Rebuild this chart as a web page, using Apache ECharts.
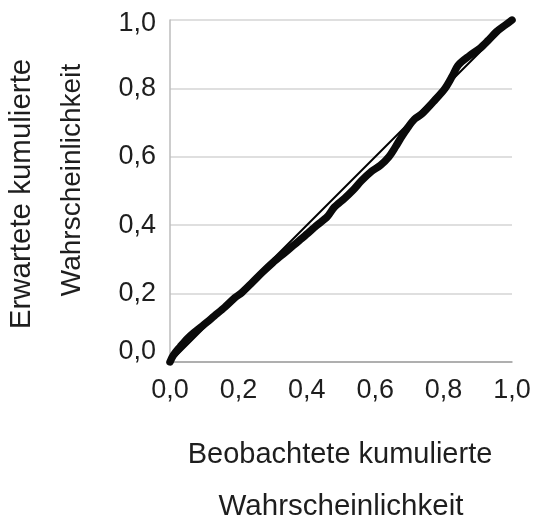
<!DOCTYPE html>
<html>
<head>
<meta charset="utf-8">
<script src="https://cdn.jsdelivr.net/npm/echarts@6/dist/echarts.min.js"></script>
<style>html,body{margin:0;padding:0;background:#fff;}#c{width:536px;height:521px;}</style>
</head>
<body>
<div id="c"></div>
<script>
// Observed cumulative probability (x) vs expected cumulative probability (y)
var observed = [0.000,0.010,0.030,0.050,0.070,0.100,0.130,0.160,0.190,0.210,0.240,0.270,0.300,0.330,0.360,0.390,0.430,0.460,0.480,0.510,0.536,0.560,0.590,0.615,0.640,0.660,0.675,0.695,0.715,0.736,0.770,0.804,0.825,0.843,0.875,0.906,0.930,0.955,0.980,1.000];
var expected = [0.000,0.020,0.045,0.068,0.086,0.110,0.135,0.160,0.188,0.203,0.232,0.262,0.290,0.315,0.340,0.365,0.400,0.425,0.452,0.478,0.503,0.530,0.558,0.575,0.600,0.630,0.655,0.685,0.710,0.725,0.761,0.800,0.835,0.868,0.895,0.917,0.940,0.966,0.985,1.000];
var refLine = [[0, 0], [1, 1]];
var tickLabels = ['0,0', '0,2', '0,4', '0,6', '0,8', '1,0'];
var xTitle = ['Beobachtete kumulierte', 'Wahrscheinlichkeit'];
var yTitle = ['Erwartete kumulierte', 'Wahrscheinlichkeit'];

var pts = observed.map(function (v, i) { return [v, expected[i]]; });
var FONT = '"Liberation Sans", Arial, sans-serif';
function lbl(v) { return tickLabels[Math.round(v * 5)]; }

var chart = echarts.init(document.getElementById('c'), null, {renderer: 'canvas'});
chart.setOption({
  animation: false,
  backgroundColor: '#ffffff',
  grid: {left: 170, top: 20, right: 24, bottom: 159, containLabel: false},
  xAxis: {
    type: 'value', min: 0, max: 1, interval: 0.2,
    axisLine: {show: true, lineStyle: {color: '#a0a0a0', width: 1.5}},
    axisTick: {show: false},
    splitLine: {show: false},
    axisLabel: {fontSize: 27, fontFamily: FONT, color: '#1e1e1e', margin: 15, formatter: lbl}
  },
  yAxis: {
    type: 'value', min: 0, max: 1, interval: 0.2,
    axisLine: {show: true, lineStyle: {color: '#bdbdbd', width: 1.5}},
    axisTick: {show: false},
    splitLine: {show: true, lineStyle: {color: '#d4d4d4', width: 1.5}},
    axisLabel: {
      fontSize: 27, fontFamily: FONT, color: '#1e1e1e', margin: 14,
      formatter: function (v) {
        if (v === 0) return '{lo|' + lbl(v) + '}';
        if (v === 1) return '{hi|' + lbl(v) + '}';
        return lbl(v);
      },
      rich: {
        lo: {fontSize: 27, fontFamily: FONT, color: '#1e1e1e', padding: [0, 0, 20, 0]},
        hi: {fontSize: 27, fontFamily: FONT, color: '#1e1e1e', padding: [8, 0, 0, 0]}
      }
    }
  },
  series: [
    {
      type: 'line', data: refLine, symbol: 'none', silent: true,
      lineStyle: {color: '#000', width: 2}, z: 2
    },
    {
      type: 'line', data: pts, symbol: 'none', smooth: 0.3, silent: true,
      lineStyle: {color: '#0a0a0a', width: 7.5, cap: 'round', join: 'round'}, z: 3
    }
  ],
  graphic: [
    {type: 'text', x: 340, y: 455, style: {text: xTitle[0], font: '29px ' + FONT, fill: '#1e1e1e', align: 'center', verticalAlign: 'middle'}},
    {type: 'text', x: 341, y: 507, style: {text: xTitle[1], font: '29.5px ' + FONT, fill: '#1e1e1e', align: 'center', verticalAlign: 'middle'}},
    {type: 'text', x: 22, y: 194, rotation: Math.PI / 2, style: {text: yTitle[0], font: '29.5px ' + FONT, fill: '#1e1e1e', align: 'center', verticalAlign: 'middle'}},
    {type: 'text', x: 72, y: 180, rotation: Math.PI / 2, style: {text: yTitle[1], font: '28px ' + FONT, fill: '#1e1e1e', align: 'center', verticalAlign: 'middle'}}
  ]
});
</script>
</body>
</html>
